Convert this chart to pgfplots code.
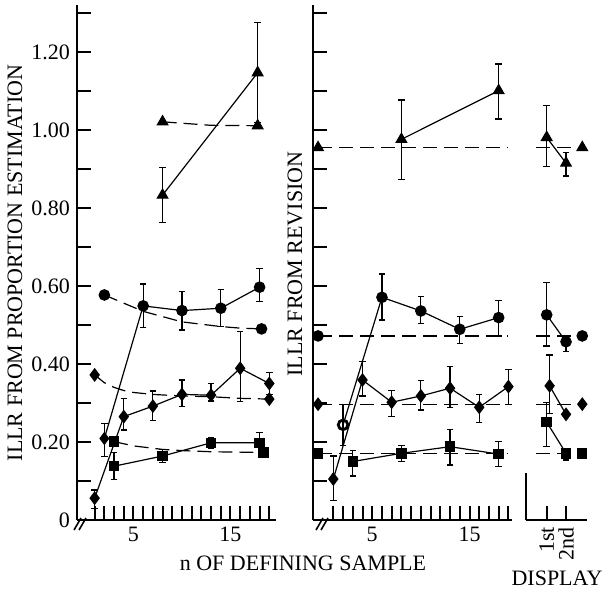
\documentclass[border=0pt]{standalone}
\usepackage{pgfplots}
\pgfplotsset{compat=1.18}
\usepackage{fontspec}
\setmainfont{Liberation Serif}
\pgfplotsset{
  panel/.style={
    scale only axis, anchor=south west, height=257.4pt, ymin=0, ymax=1.32,
    axis x line=bottom, axis y line=left, axis line style={-, line width=1pt},
    tick align=inside, major tick length=7pt, minor tick length=7pt,
    every tick/.style={black, line width=1pt},
    clip=false,
    /pgf/number format/assume math mode=true,
    tick label style={font=\fontsize{11}{13}\selectfont},
  },
  sol/.style={black, line width=0.6pt,
    error bars/y dir=both, error bars/y explicit,
    error bars/error bar style={line width=0.6pt, solid},
    error bars/error mark options={rotate=90, mark size=1.6pt, line width=0.6pt, solid}},
  dsh/.style={black, line width=0.6pt, dash pattern=on 7pt off 3.5pt, mark options={solid}},
  mc/.style={mark=*, mark size=2.6pt},
  md/.style={mark=diamond*, mark size=3pt},
  ms/.style={mark=square*, mark size=2.3pt},
  mt/.style={mark=triangle*, mark size=3pt},
}
\begin{document}
\begin{tikzpicture}[font=\fontsize{11}{13}\selectfont]
\useasboundingbox (0,0) rectangle (302pt,294.5pt);

% ---------------- left panel: proportion estimation
\begin{axis}[panel, at={(38.5pt,34.5pt)}, width=99.5pt, xmin=-0.82, xmax=19.69,
  xtick={1,2,3,4,5,6,7,8,9,10,11,12,13,14,15,16,17,18,19},
  xticklabels={,,,,5,,,,,,,,,,15,,,,},
  ytick={0,0.1,0.2,0.3,0.4,0.5,0.6,0.7,0.8,0.9,1.0,1.1,1.2,1.3},
  yticklabels={0,,0.20,,0.40,,0.60,,0.80,,1.00,,1.20,}]
% triangles
\addplot[sol, mt] coordinates {(8,0.833) += (0,0.070) -= (0,0.070) (17.8,1.147) += (0,0.128) -= (0,0.128)};
\addplot[dsh, mt, mark indices={1,3}] coordinates {(8,1.021) (13,1.012) (17.8,1.011)};
% circles
\addplot[sol, mc, mark indices={2,3,4,5}] coordinates {(2,0.209) += (0,0.039) -= (0,0.047) (6,0.549) += (0,0.056) -= (0,0.055) (10,0.537) += (0,0.048) -= (0,0.050) (14,0.543) += (0,0.049) -= (0,0.047) (18,0.597) += (0,0.048) -= (0,0.037)};
\addplot[only marks, md, black] coordinates {(2,0.209)};
\addplot[dsh, mc, mark indices={1,7}] coordinates {(2,0.577) (4,0.556) (6,0.535) (10,0.508) (14,0.496) (16,0.492) (18.2,0.490)};
% diamonds
\addplot[sol, md] coordinates {(1,0.056) += (0,0.021) -= (0,0.026) (4,0.265) += (0,0.047) -= (0,0.034) (7,0.292) += (0,0.039) -= (0,0.036) (10,0.322) += (0,0.037) -= (0,0.030) (13,0.320) += (0,0.030) -= (0,0.015) (16,0.389) += (0,0.094) -= (0,0.085) (19,0.350) += (0,0.028) -= (0,0.029)};
\addplot[dsh, md, mark indices={1,10}] coordinates {(1,0.372) (2,0.352) (3,0.340) (4,0.332) (5,0.327) (7,0.322) (10,0.318) (13,0.316) (16,0.312) (19,0.310)};
% squares
\addplot[sol, ms] coordinates {(3,0.138) += (0,0.035) -= (0,0.035) (8,0.164) += (0,0.017) -= (0,0.017) (13,0.198) += (0,0.013) -= (0,0.014) (18,0.198) += (0,0.026) -= (0,0.010)};
\addplot[dsh, ms, mark indices={1,7}] coordinates {(3,0.201) (5,0.190) (8,0.181) (10,0.178) (13,0.175) (16,0.174) (18.4,0.173)};
\end{axis}

% ---------------- right panel: revision
\begin{axis}[panel, at={(156.5pt,34.5pt)}, width=99.5pt, xmin=-1.09, xmax=19.37,
  xtick={1,2,3,4,5,6,7,8,9,10,11,12,13,14,15,16,17,18,19},
  xticklabels={,,,,5,,,,,,,,,,15,,,,},
  ytick={0,0.1,0.2,0.3,0.4,0.5,0.6,0.7,0.8,0.9,1.0,1.1,1.2,1.3},
  yticklabels={}]
% triangles
\addplot[sol, mt] coordinates {(8,0.976) += (0,0.101) -= (0,0.102) (18,1.101) += (0,0.068) -= (0,0.073)};
\addplot[dsh, mt, mark indices={1}] coordinates {(-0.57,0.955) (18.9,0.955)};
% circles
\addplot[sol, mc, mark indices={2,3,4,5}] coordinates {(2,0.244) += (0,0.053) -= (0,0.052) (6,0.571) += (0,0.060) -= (0,0.058) (10,0.536) += (0,0.037) -= (0,0.033) (14,0.489) += (0,0.032) -= (0,0.036) (18,0.519) += (0,0.043) -= (0,0.047)};
\addplot[only marks, black, mark=o, mark size=2.4pt, line width=1.4pt] coordinates {(2,0.244)};
\addplot[dsh, mc, mark indices={1}] coordinates {(-0.57,0.472) (18.9,0.472)};
% diamonds
\addplot[sol, md] coordinates {(1,0.105) += (0,0.059) -= (0,0.054) (4,0.359) += (0,0.047) -= (0,0.041) (7,0.302) += (0,0.030) -= (0,0.037) (10,0.318) += (0,0.039) -= (0,0.036) (13,0.338) += (0,0.055) -= (0,0.050) (16,0.289) += (0,0.033) -= (0,0.039) (19,0.342) += (0,0.044) -= (0,0.045)};
\addplot[dsh, md, mark indices={1}] coordinates {(-0.57,0.297) (18.9,0.297)};
% squares
\addplot[sol, ms] coordinates {(3,0.150) += (0,0.029) -= (0,0.037) (8,0.171) += (0,0.020) -= (0,0.020) (13,0.188) += (0,0.044) -= (0,0.047) (18,0.169) += (0,0.032) -= (0,0.031)};
\addplot[dsh, ms, mark indices={1}] coordinates {(-0.57,0.171) (18.9,0.171)};
\end{axis}

% ---------------- display panel
\begin{axis}[panel, at={(263pt,34.5pt)}, width=30.35pt, xmin=-0.07, xmax=3.07,
  axis y line=none, ytick=\empty,
  xtick={1,2}, xticklabels={1st,2nd},
  xticklabel style={rotate=90, anchor=east}]
\addplot[black, line width=1pt] coordinates {(-0.07,0) (-0.07,0.121)};
% triangles
\addplot[sol, mt] coordinates {(1,0.981) += (0,0.082) -= (0,0.075) (2,0.915) += (0,0.028) -= (0,0.033)};
\addplot[dsh, mt, mark indices={2}] coordinates {(0.47,0.955) (2.84,0.955)};
% circles
\addplot[sol, mc] coordinates {(1,0.526) += (0,0.083) -= (0,0.080) (2,0.457) += (0,0.011) -= (0,0.025)};
\addplot[dsh, mc, mark indices={2}] coordinates {(0.47,0.472) (2.84,0.472)};
% diamonds
\addplot[sol, md] coordinates {(1.15,0.344) += (0,0.079) -= (0,0.070) (2,0.271) += (0,0) -= (0,0)};
\addplot[dsh, md, mark indices={2}] coordinates {(0.47,0.297) (2.84,0.297)};
% squares
\addplot[sol, ms] coordinates {(1,0.251) += (0,0.050) -= (0,0.063) (2,0.171) += (0,0.013) -= (0,0.017)};
\addplot[dsh, ms, mark indices={2}] coordinates {(0.47,0.171) (2.84,0.171)};
\end{axis}

% axis breaks
\draw[line width=0.8pt] (37pt,29.5pt) -- (40.5pt,35.5pt);
\draw[line width=0.8pt] (39.5pt,29.5pt) -- (43pt,35.5pt);
\draw[line width=0.8pt] (158pt,29.5pt) -- (161.5pt,35.5pt);
\draw[line width=0.8pt] (160.5pt,29.5pt) -- (164pt,35.5pt);

% labels
\node[rotate=90] at (7.5pt,163pt) {ILLR FROM PROPORTION ESTIMATION};
\node[rotate=90] at (147.5pt,162.5pt) {ILLR FROM REVISION};
\node at (151.5pt,13pt) {n OF DEFINING SAMPLE};
\node at (278.5pt,5.5pt) {DISPLAY};
\end{tikzpicture}
\end{document}
